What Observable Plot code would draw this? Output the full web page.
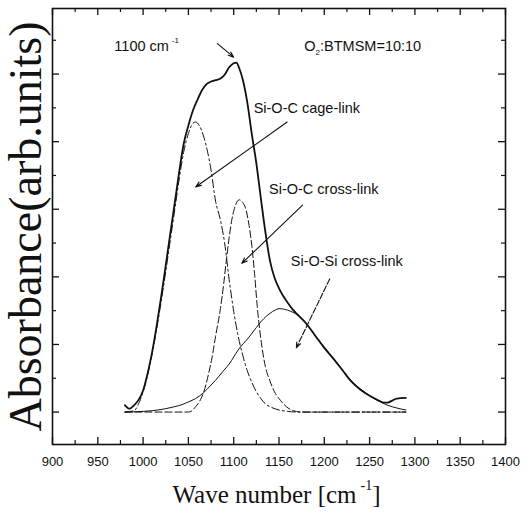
<!DOCTYPE html>
<html><head><meta charset="utf-8">
<script src="https://cdn.jsdelivr.net/npm/d3@7"></script>
<script src="https://cdn.jsdelivr.net/npm/@observablehq/plot@0.6"></script>
<style>body{margin:0;background:#fff} svg{display:block}</style>
</head><body><div id="chart"></div>
<script>
// ---- data ----
const totalWn  = [980,985,990,995,1000,1005,1010,1015,1020,1025,1030,1035,1040,1045,1050,1055,1060,1065,1070,1075,1080,1085,1090,1095,1100,1103,1106,1110,1115,1120,1125,1130,1135,1140,1145,1150,1155,1160,1165,1170,1180,1190,1200,1210,1220,1230,1240,1250,1260,1265,1270,1275,1280,1290];
const totalAbs = [0.10,0.05,0.10,0.18,0.32,0.57,0.89,1.28,1.71,2.17,2.64,3.10,3.57,3.98,4.24,4.46,4.62,4.76,4.85,4.89,4.91,4.93,4.99,5.10,5.16,5.17,5.09,4.92,4.58,4.11,3.68,3.16,2.66,2.24,1.99,1.83,1.71,1.61,1.52,1.45,1.31,1.13,0.95,0.79,0.62,0.45,0.33,0.24,0.17,0.14,0.14,0.17,0.20,0.21];

const cageWn  = [980,990,995,1000,1005,1010,1015,1020,1025,1030,1035,1040,1045,1050,1055,1058,1062,1067,1071,1075,1080,1085,1090,1095,1100,1105,1110,1115,1120,1125,1130,1135,1140,1150,1160,1170,1290];
const cageAbs = [0,0.02,0.12,0.30,0.55,0.86,1.23,1.64,2.08,2.54,3.00,3.46,3.86,4.12,4.27,4.29,4.24,4.07,3.86,3.58,3.12,2.86,2.50,1.96,1.49,1.12,0.84,0.61,0.44,0.30,0.20,0.12,0.08,0.03,0.01,0,0];

const crossWn  = [980,1050,1054,1058,1062,1067,1072,1076,1080,1085,1089,1092,1095,1098,1102,1106,1110,1113,1117,1120,1123,1126,1130,1135,1140,1145,1150,1155,1160,1166,1175,1290];
const crossAbs = [0,0,0.02,0.08,0.15,0.30,0.55,0.80,1.12,1.50,1.90,2.26,2.58,2.85,3.06,3.14,3.10,3.02,2.76,2.46,2.05,1.56,1.08,0.67,0.46,0.30,0.20,0.12,0.06,0.02,0,0];

const sioWn  = [980,1000,1010,1025,1035,1043,1050,1058,1067,1075,1080,1088,1095,1105,1117,1125,1131,1140,1146,1150,1156,1163,1172,1181,1190,1200,1210,1218,1225,1233,1240,1247,1255,1262,1270,1280,1290];
const sioAbs = [0,0.01,0.02,0.05,0.08,0.11,0.15,0.20,0.29,0.40,0.47,0.60,0.71,0.92,1.11,1.25,1.35,1.46,1.51,1.53,1.52,1.49,1.42,1.30,1.13,0.96,0.79,0.66,0.53,0.42,0.34,0.27,0.20,0.15,0.10,0.06,0.03];

const xMajor = [900,950,1000,1050,1100,1150,1200,1250,1300,1350,1400];
const xMinor = [925,975,1025,1075,1125,1175,1225,1275,1325,1375];
const yMajor = [0,1,2,3,4,5];
const yMinor = [0.5,1.5,2.5,3.5,4.5,5.5];

const bandNames = ["Si-O-C cage-link","Si-O-C cross-link","Si-O-Si cross-link"];
const bandLabelX = [1122,1139,1163];
const bandLabelY = [4.49,3.30,2.23];

const arrowX1 = [1082,1159,1176,1206];
const arrowY1 = [5.45,4.29,3.06,1.97];
const arrowX2 = [1100,1058,1109,1169];
const arrowY2 = [5.25,3.33,2.20,0.95];

const peakLabel = ["1100 cm", "-1"];
const peakLabelX = 1004.5, peakLabelY = 5.41;
const ratioLabel = ["O", "2", ":BTMSM=10:10"];
const ratioLabelX = 1243, ratioLabelY = 5.41;

const xTitle = ["Wave number [cm", "-1", "]"];
const yTitle = "Absorbance(arb.units)";

// ---- layout ----
const W = 531, H = 515, mL = 52, mR = 26, mT = 8, mB = 71;
const pw = W - mL - mR, ph = H - mT - mB;
const ink = "#111";
const sans = "'Liberation Sans', Arial, sans-serif";
const serif = "'Liberation Serif', 'Times New Roman', serif";

const rows = (xs, ys) => xs.map((x, i) => ({x, y: ys[i]}));
const idx3 = [0,1,2];

const chart = Plot.plot({
  width: W, height: H,
  marginLeft: mL, marginRight: mR, marginTop: mT, marginBottom: mB,
  style: {background: "#fff", color: ink, fontFamily: sans},
  x: {domain: [900, 1400]},
  y: {domain: [-0.48, 5.97], axis: null},
  marks: [
    // inward ticks on all four sides
    Plot.tickX(xMajor, {x: d => d, insetTop: ph - 7, stroke: ink, strokeWidth: 1.3}),
    Plot.tickX(xMinor, {x: d => d, insetTop: ph - 4, stroke: ink, strokeWidth: 1.2}),
    Plot.tickX(xMajor, {x: d => d, insetBottom: ph - 7, stroke: ink, strokeWidth: 1.3}),
    Plot.tickX(xMinor, {x: d => d, insetBottom: ph - 4, stroke: ink, strokeWidth: 1.2}),
    Plot.tickY(yMajor, {y: d => d, insetRight: pw - 7, stroke: ink, strokeWidth: 1.3}),
    Plot.tickY(yMinor, {y: d => d, insetRight: pw - 4, stroke: ink, strokeWidth: 1.2}),
    Plot.tickY(yMajor, {y: d => d, insetLeft: pw - 7, stroke: ink, strokeWidth: 1.3}),
    Plot.tickY(yMinor, {y: d => d, insetLeft: pw - 4, stroke: ink, strokeWidth: 1.2}),
    Plot.axisX(xMajor, {anchor: "bottom", tickSize: 0, tickPadding: 12, label: null,
      tickFormat: d => String(d), fontSize: 13, fontFamily: sans, fill: ink}),
    // curves
    Plot.line(rows(sioWn, sioAbs), {x: "x", y: "y", stroke: ink, strokeWidth: 1, curve: "monotone-x"}),
    Plot.line(rows(crossWn, crossAbs), {x: "x", y: "y", stroke: ink, strokeWidth: 1, strokeDasharray: "7,3", curve: "monotone-x"}),
    Plot.line(rows(cageWn, cageAbs), {x: "x", y: "y", stroke: ink, strokeWidth: 1, strokeDasharray: "8,3,2,3", curve: "monotone-x"}),
    Plot.line(rows(totalWn, totalAbs), {x: "x", y: "y", stroke: ink, strokeWidth: 1.8, curve: "monotone-x"}),
    // annotations
    Plot.arrow([0,1,2], {x1: i => arrowX1[i], y1: i => arrowY1[i], x2: i => arrowX2[i], y2: i => arrowY2[i],
      stroke: ink, strokeWidth: 1.1, headLength: 8, headAngle: 40}),
    Plot.arrow([3], {x1: i => arrowX1[i], y1: i => arrowY1[i], x2: i => arrowX2[i], y2: i => arrowY2[i],
      stroke: ink, strokeWidth: 1.1, headLength: 8, headAngle: 40, strokeDasharray: "6,2"}),
    Plot.text(idx3, {x: i => bandLabelX[i], y: i => bandLabelY[i], text: i => bandNames[i],
      textAnchor: "start", lineAnchor: "middle", fontSize: 14.5, fontFamily: sans, fill: ink}),
    Plot.frame({stroke: ink, strokeWidth: 1.6})
  ]
});
document.getElementById("chart").append(chart);

const sx = chart.scale("x"), sy = chart.scale("y");
const svg = d3.select(chart);

// peak label with superscript
const t1 = svg.append("text")
  .attr("x", sx.apply(peakLabelX)).attr("y", sy.apply(peakLabelY) + 5)
  .attr("font-family", sans).attr("font-size", 14.5).attr("fill", ink);
t1.append("tspan").text(peakLabel[0]);
t1.append("tspan").attr("font-size", 8).attr("dx", 3).attr("dy", -8).text(peakLabel[1]);

// ratio label with subscript
const t2 = svg.append("text")
  .attr("x", sx.apply(ratioLabelX)).attr("y", sy.apply(ratioLabelY) + 5)
  .attr("font-family", sans).attr("font-size", 14.5).attr("fill", ink);
t2.append("tspan").text(ratioLabel[0]);
t2.append("tspan").attr("font-size", 8).attr("dy", 4).text(ratioLabel[1]);
t2.append("tspan").attr("dy", -4).text(ratioLabel[2]);

// x title
const xt = svg.append("text")
  .attr("x", (mL + W - mR) / 2 - 2).attr("y", 503).attr("text-anchor", "middle")
  .attr("font-family", serif).attr("font-size", 25).attr("fill", ink);
xt.append("tspan").text(xTitle[0]);
xt.append("tspan").attr("font-size", 14).attr("dx", 4).attr("dy", -13).text(xTitle[1]);
xt.append("tspan").attr("dy", 13).text(xTitle[2]);

// y title
svg.append("text")
  .attr("transform", `translate(41,${(mT + H - mB) / 2 + 0.5}) rotate(-90)`)
  .attr("text-anchor", "middle")
  .attr("font-family", serif).attr("font-size", 46).attr("fill", ink)
  .text(yTitle);
</script>
</body></html>
